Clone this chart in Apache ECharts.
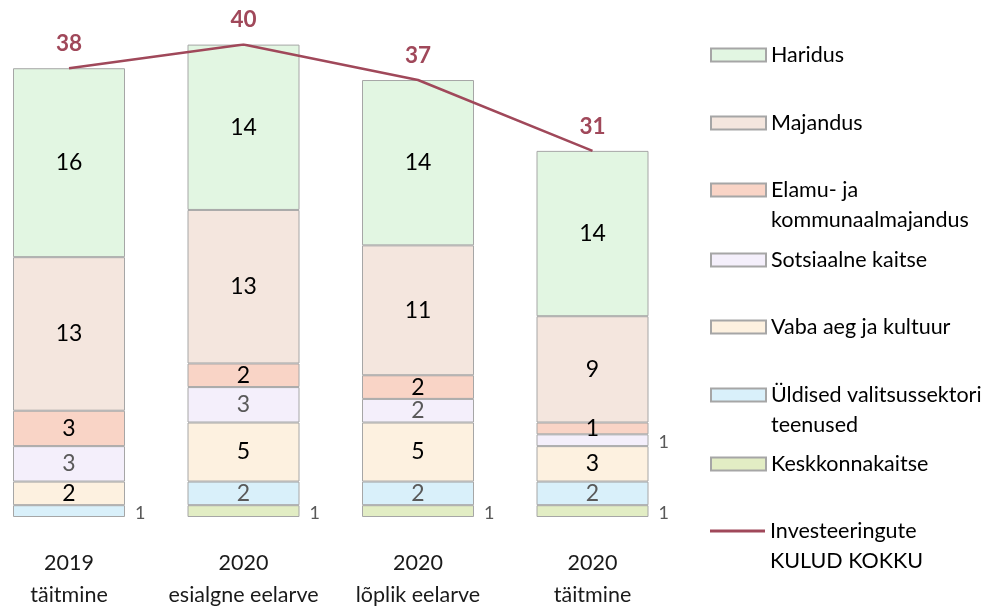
<!DOCTYPE html>
<html>
<head>
<meta charset="utf-8">
<script src="https://cdn.jsdelivr.net/npm/echarts@6/dist/echarts.min.js"></script>
<style>
  html, body { margin: 0; padding: 0; background: #fff; }
  #chart { width: 988px; height: 606px; }
</style>
</head>
<body>
<div id="chart"></div>
<script>
// Investment spending by area (million €)
const categories = ['2019\ntäitmine', '2020\nesialgne eelarve', '2020\nlõplik eelarve', '2020\ntäitmine'];

const keskkonnakaitse = [null, 1, 1, 1];
const yldised = [1, 2, 2, 2];
const vabaAeg = [2, 5, 5, 3];
const sotsiaalne = [3, 3, 2, 1];
const elamu = [3, 2, 2, 1];
const majandus = [13, 13, 11, 9];
const haridus = [16, 14, 14, 14];
const kuludKokku = [38, 40, 37, 31];

const FONT = 'Lato, "Noto Sans", sans-serif';
const DARK = '#000000';
const GREY = '#595959';
const BORDER = '#a6a6a6';

// stacked bar series, bottom to top
const barDefs = [
  { name: 'Keskkonnakaitse', data: keskkonnakaitse, color: '#e2edc4', labelColor: GREY, smallOutside: true },
  { name: 'Üldised valitsussektori teenused', data: yldised, color: '#d9f0fa', labelColor: GREY, smallOutside: true },
  { name: 'Vaba aeg ja kultuur', data: vabaAeg, color: '#fdf1e0', labelColor: DARK, smallOutside: false },
  { name: 'Sotsiaalne kaitse', data: sotsiaalne, color: '#f4effb', labelColor: GREY, smallOutside: true },
  { name: 'Elamu- ja kommunaalmajandus', data: elamu, color: '#f9d4c6', labelColor: DARK, smallOutside: false },
  { name: 'Majandus', data: majandus, color: '#f4e6de', labelColor: DARK, smallOutside: false },
  { name: 'Haridus', data: haridus, color: '#e2f6e2', labelColor: DARK, smallOutside: false }
];
const lineName = 'Investeeringute KULUD KOKKU';
const lineColor = '#a0485a';

const series = barDefs.map(d => ({
  name: d.name,
  type: 'bar',
  stack: 'kulud',
  barWidth: 112,
  itemStyle: { color: d.color, borderColor: BORDER, borderWidth: 1 },
  label: {
    show: true,
    position: 'inside',
    color: d.labelColor,
    fontFamily: FONT,
    fontSize: 23
  },
  data: d.data.map(v => {
    if (v !== null && v <= 1 && d.smallOutside) {
      return { value: v, label: { position: 'right', distance: 10, offset: [0, 2], color: GREY, fontSize: 18 } };
    }
    return v;
  })
}));

series.push({
  name: lineName,
  type: 'line',
  data: kuludKokku,
  symbol: 'circle',
  symbolSize: 0,
  color: lineColor,
  lineStyle: { color: lineColor, width: 2.5 },
  label: {
    show: true,
    position: 'top',
    distance: 13,
    color: lineColor,
    fontFamily: FONT,
    fontWeight: 'bold',
    fontSize: 22.5
  },
  z: 5
});

// legend: one component per entry, icon aligned with first text line
const legendEntries = [
  { name: 'Haridus', text: 'Haridus', center: 55 },
  { name: 'Majandus', text: 'Majandus', center: 123 },
  { name: 'Elamu- ja kommunaalmajandus', text: '\nElamu- ja\nkommunaalmajandus', center: 190 },
  { name: 'Sotsiaalne kaitse', text: 'Sotsiaalne kaitse', center: 260 },
  { name: 'Vaba aeg ja kultuur', text: 'Vaba aeg ja kultuur', center: 327 },
  { name: 'Üldised valitsussektori teenused', text: '\nÜldised valitsussektori\nteenused', center: 395 },
  { name: 'Keskkonnakaitse', text: 'Keskkonnakaitse', center: 464 },
  { name: lineName, text: '\nInvesteeringute\nKULUD KOKKU', center: 531 }
];
const LH = 30;
const legends = legendEntries.map(e => {
  const lines = e.text.split('\n').length;
  const isLine = e.name === lineName;
  return {
    orient: 'vertical',
    left: 710,
    top: e.center - (lines * LH) / 2,
    padding: 0,
    itemWidth: 55,
    itemHeight: isLine ? 3 : 13,
    icon: 'rect',
    data: [e.name],
    formatter: () => e.text,
    textStyle: { fontFamily: FONT, fontSize: 21.5, color: '#000', lineHeight: LH }
  };
});

const chart = echarts.init(document.getElementById('chart'), null, { renderer: 'canvas' });
chart.setOption({
  animation: false,
  backgroundColor: '#ffffff',
  legend: legends,
  grid: {
    left: 69, right: 395.5, top: 44.6, bottom: 89,
    containLabel: false,
    outerBoundsMode: 'none'
  },
  xAxis: {
    type: 'category',
    data: categories,
    boundaryGap: false,
    axisLine: { show: false },
    axisTick: { show: false },
    axisLabel: {
      margin: 30,
      interval: 0,
      color: '#1a1a1a',
      fontFamily: FONT,
      fontSize: 21.5,
      lineHeight: 32
    }
  },
  yAxis: {
    type: 'value',
    min: 0,
    max: 40,
    show: false,
    splitLine: { show: false }
  },
  series: series
});
</script>
</body>
</html>
